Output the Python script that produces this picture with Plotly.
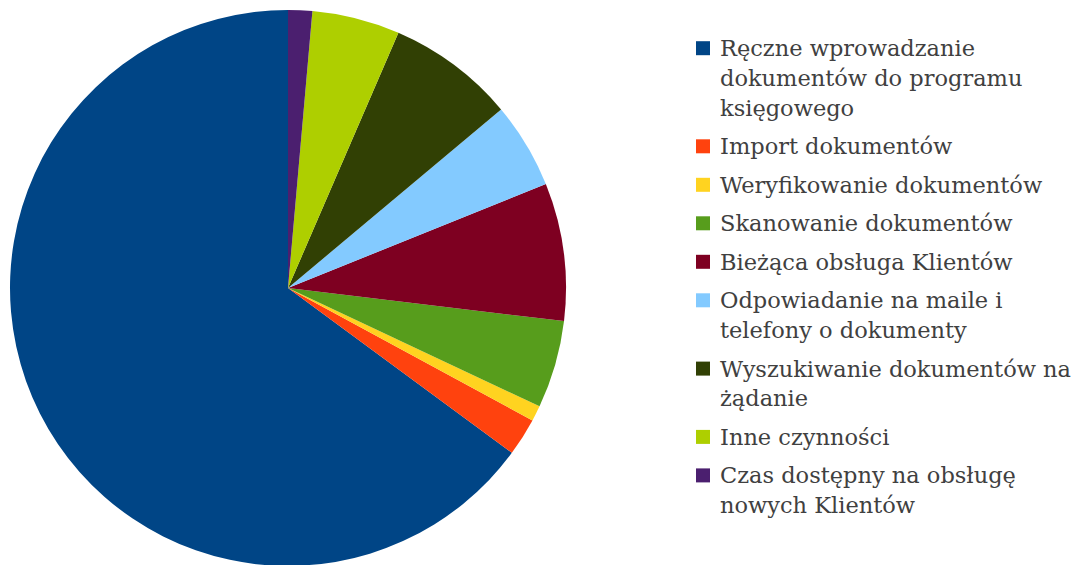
import plotly.graph_objects as go

labels = [
    "Ręczne wprowadzanie<br>dokumentów do programu<br>księgowego",
    "Import dokumentów",
    "Weryfikowanie dokumentów",
    "Skanowanie dokumentów",
    "Bieżąca obsługa Klientów",
    "Odpowiadanie na maile i<br>telefony o dokumenty",
    "Wyszukiwanie dokumentów na<br>żądanie",
    "Inne czynności",
    "Czas dostępny na obsługę<br>nowych Klientów",
]
values = [64.9, 2.2, 0.9, 5.1, 8.0, 5.0, 7.4, 5.1, 1.4]
colors = ["#004586", "#ff420e", "#ffd320", "#579d1c", "#7e0021",
          "#83caff", "#314004", "#aecf00", "#4b1f6f"]

W, H = 1083, 565
OFF = 8  # page body margin offset

total = sum(values)
rotation = 360 * (1 - values[0] / total)

fig = go.Figure(go.Pie(
    labels=labels,
    values=values,
    marker=dict(colors=colors, line=dict(width=0)),
    sort=False,
    direction="counterclockwise",
    rotation=rotation,
    textinfo="none",
    hoverinfo="label+percent",
    showlegend=False,
    domain=dict(x=[(10 - OFF) / W, (566 - OFF) / W],
                y=[(H - (566 - OFF)) / H, (H - (10 - OFF)) / H]),
))

# manual legend (layout)
font = dict(family="DejaVu Serif", size=22.5, color="#404040")
line_step = 29.8
item_step = 38.5
y = 48.2  # page px of first line centre
text_x = 718
sq_x0, sq_x1, sq_half = 696, 710, 7
annotations = []
shapes = []
for lab, col in zip(labels, colors):
    lines = lab.split("<br>")
    shapes.append(dict(
        type="rect", xref="paper", yref="paper",
        x0=(sq_x0 - OFF) / W, x1=(sq_x1 - OFF) / W,
        y0=1 - (y - OFF + sq_half) / H, y1=1 - (y - OFF - sq_half) / H,
        fillcolor=col, line=dict(width=0),
    ))
    for k, ln in enumerate(lines):
        annotations.append(dict(
            text=ln, xref="paper", yref="paper",
            x=(text_x - OFF) / W, y=1 - (y - OFF) / H,
            xanchor="left", yanchor="middle", showarrow=False,
            font=font,
        ))
        if k < len(lines) - 1:
            y += line_step
    y += item_step

fig.update_layout(
    width=W, height=H,
    margin=dict(l=0, r=0, t=0, b=0),
    paper_bgcolor="white",
    plot_bgcolor="white",
    showlegend=False,
    annotations=annotations,
    shapes=shapes,
)

fig.write_html("out.html")
